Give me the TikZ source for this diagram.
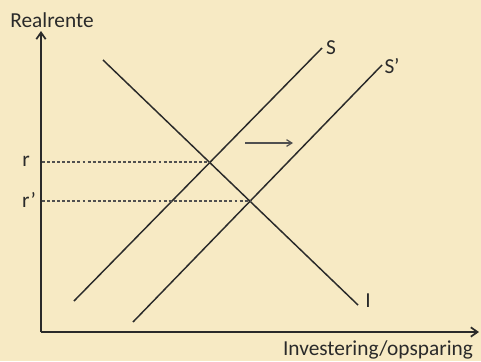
\documentclass[tikz,border=0pt]{standalone}
\usepackage{fontspec}
\setmainfont{Carlito}
\usetikzlibrary{arrows.meta}
\definecolor{bg}{HTML}{F7EAC4}
\definecolor{ink}{HTML}{2A2A2A}
\definecolor{gray1}{HTML}{505050}
\tikzset{
  axis/.style={draw=ink, line width=1.5pt, -{Straight Barb[length=5pt,width=7pt,line width=1.3pt]}},
  curve/.style={draw=ink, line width=1.1pt},
  guide/.style={draw=gray1, line width=0.9pt, dash pattern=on 2.2pt off 1.6pt},
  lbl/.style={text=ink, font=\fontsize{16}{19}\selectfont, inner sep=0pt},
  shiftarrow/.style={draw=gray1, line width=0.9pt, -{Straight Barb[length=4pt,width=5pt]}}
}
\begin{document}
\begin{tikzpicture}[x=0.75pt,y=-0.75pt]
\fill[bg] (0,0) rectangle (481,361);
\useasboundingbox (0,0) rectangle (481,361);
% axes
\coordinate (O) at (41,332);
\coordinate (Ytop) at (41,31);
\coordinate (Xend) at (479,332);
\draw[axis] (O) -- (Ytop);
\draw[axis] (O) -- (Xend);
\node[lbl] (ylab) at (52,20) {Realrente};
\node[lbl] (xlab) at (378,350) {Investering/opsparing};
% curves
\coordinate (I1) at (103,60);
\coordinate (I2) at (358,305);
\coordinate (S1) at (74,301);
\coordinate (S2) at (322,48);
\coordinate (Sp1) at (133,322);
\coordinate (Sp2) at (382,65);
\draw[curve] (I1) -- (I2);
\draw[curve] (S1) -- (S2);
\draw[curve] (Sp1) -- (Sp2);
\node[lbl] (Ilab) at (368,301) {I};
\node[lbl] (Slab) at (331,48) {S};
\node[lbl] (Splab) at (392,66) {S’};
% equilibria
\coordinate (E1) at (210,162);
\coordinate (E2) at (250,201);
\coordinate (R1) at (42,162);
\coordinate (R2) at (42,201);
\draw[guide] (R1) -- (E1);
\draw[guide] (R2) -- (E2);
\node[lbl] (rlab) at (26,161) {r};
\node[lbl] (rplab) at (29,200) {r’};
% shift arrow
\coordinate (A1) at (245,143);
\coordinate (A2) at (293,143);
\draw[shiftarrow] (A1) -- (A2);
\end{tikzpicture}
\end{document}
